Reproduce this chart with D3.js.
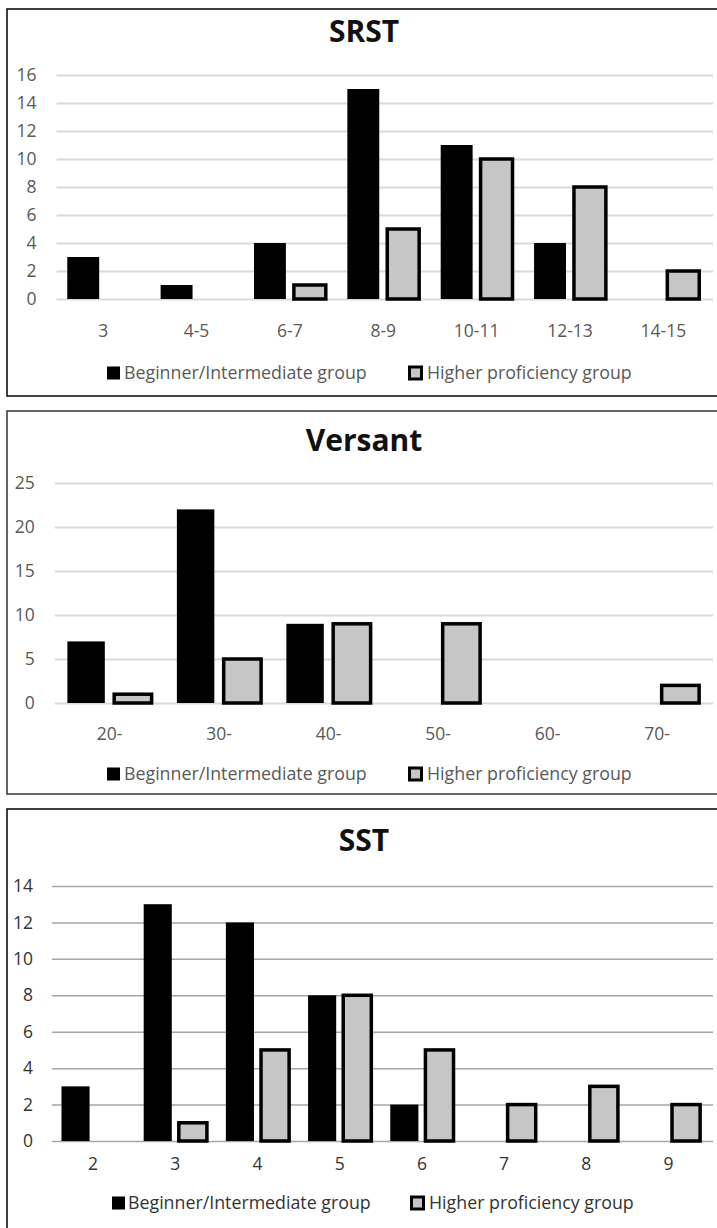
<!DOCTYPE html>
<html>
<head>
<meta charset="utf-8">
<script src="https://cdn.jsdelivr.net/npm/d3@7/dist/d3.min.js"></script>
<style>
body { margin: 0; background: #fff; }
svg { display: block; font-family: "Open Sans", sans-serif; }
</style>
</head>
<body>
<script>
var seriesNames = ["Beginner/Intermediate group", "Higher proficiency group"];

// SRST
var srstCategories = ["3", "4-5", "6-7", "8-9", "10-11", "12-13", "14-15"];
var srstBeginner = [3, 1, 4, 15, 11, 4, 0];
var srstHigher = [0, 0, 1, 5, 10, 8, 2];
var srstTicks = [0, 2, 4, 6, 8, 10, 12, 14, 16];

// Versant
var versantCategories = ["20-", "30-", "40-", "50-", "60-", "70-"];
var versantBeginner = [7, 22, 9, 0, 0, 0];
var versantHigher = [1, 5, 9, 9, 0, 2];
var versantTicks = [0, 5, 10, 15, 20, 25];

// SST
var sstCategories = ["2", "3", "4", "5", "6", "7", "8", "9"];
var sstBeginner = [3, 13, 12, 8, 2, 0, 0, 0];
var sstHigher = [0, 1, 5, 8, 5, 2, 3, 2];
var sstTicks = [0, 2, 4, 6, 8, 10, 12, 14];

var svg = d3.select("body").append("svg")
    .attr("width", 717)
    .attr("height", 1228);

function drawPanel(title, cats, beg, hig, ticks, cfg) {
  var g = svg.append("g");

  g.append("rect")
    .attr("x", 7).attr("y", cfg.boxTop)
    .attr("width", 720).attr("height", cfg.boxH)
    .attr("fill", "none")
    .attr("stroke", cfg.boxColor)
    .attr("stroke-width", 1.5);

  g.append("text")
    .attr("x", 364).attr("y", cfg.titleY)
    .attr("text-anchor", "middle")
    .attr("font-size", 30)
    .attr("font-weight", "bold")
    .attr("fill", "#111")
    .text(title);

  var x0 = d3.scaleBand().domain(cats).range([cfg.left, cfg.right]);
  var x1 = d3.scaleBand().domain([0, 1]).range([0, x0.bandwidth()])
      .paddingInner(0.2).paddingOuter(0.27);
  var y = d3.scaleLinear().domain([0, d3.max(ticks)]).range([cfg.bottom, cfg.top]);

  // gridlines + y labels
  g.append("g")
    .attr("transform", "translate(" + cfg.left + ",0)")
    .call(d3.axisLeft(y).tickValues(ticks)
        .tickSize(-(cfg.gridRight - cfg.left))
        .tickPadding(cfg.yPad))
    .call(function(a) { a.select(".domain").remove(); })
    .attr("font-family", null).attr("font-size", 17.5)
    .call(function(a) {
      a.selectAll("line").attr("stroke", cfg.gridColor).attr("stroke-width", cfg.gridW);
      a.selectAll("text").attr("fill", cfg.textColor);
    });

  // x labels
  g.append("g")
    .attr("transform", "translate(0," + cfg.bottom + ")")
    .call(d3.axisBottom(x0).tickSize(0).tickPadding(cfg.xPad))
    .call(function(a) { a.select(".domain").remove(); })
    .attr("font-family", null).attr("font-size", 17.5)
    .call(function(a) { a.selectAll("text").attr("fill", cfg.textColor); });

  var bars = [];
  cats.forEach(function(c, i) {
    bars.push({cat: c, s: 0, v: beg[i]});
    bars.push({cat: c, s: 1, v: hig[i]});
  });
  bars = bars.filter(function(d) { return d.v > 0; });

  g.selectAll("rect.bar")
    .data(bars)
    .enter().append("rect")
    .attr("class", "bar")
    .attr("x", function(d) { return x0(d.cat) + x1(d.s); })
    .attr("y", function(d) { return y(d.v); })
    .attr("width", x1.bandwidth())
    .attr("height", function(d) { return y(0) - y(d.v); })
    .attr("fill", function(d) { return d.s === 0 ? "#000" : "#c6c6c6"; })
    .attr("stroke", function(d) { return d.s === 0 ? "none" : "#000"; })
    .attr("stroke-width", 3.5);

  // legend
  var lg = g.append("g").attr("font-size", 17.8).attr("fill", cfg.textColor);
  lg.append("rect")
    .attr("x", cfg.leg[0]).attr("y", cfg.legY - 6.5)
    .attr("width", 13).attr("height", 13).attr("fill", "#000");
  lg.append("text")
    .attr("x", cfg.leg[1]).attr("y", cfg.legY).attr("dy", "0.35em")
    .text(seriesNames[0]);
  lg.append("rect")
    .attr("x", cfg.leg[2] + 1.5).attr("y", cfg.legY - 6)
    .attr("width", 12).attr("height", 12)
    .attr("fill", "#c6c6c6").attr("stroke", "#000").attr("stroke-width", 3);
  lg.append("text")
    .attr("x", cfg.leg[3]).attr("y", cfg.legY).attr("dy", "0.35em")
    .text(seriesNames[1]);
}

drawPanel("SRST", srstCategories, srstBeginner, srstHigher, srstTicks, {
  boxTop: 9, boxH: 387, boxColor: "#000", titleY: 42,
  left: 56.5, right: 710, gridRight: 713, top: 75, bottom: 299,
  yPad: 20, xPad: 26, gridColor: "#d9d9d9", gridW: 2.2, textColor: "#595959",
  legY: 373, leg: [107, 124, 408, 427]
});

drawPanel("Versant", versantCategories, versantBeginner, versantHigher, versantTicks, {
  boxTop: 411, boxH: 383, boxColor: "#333", titleY: 451,
  left: 54.75, right: 711.75, gridRight: 713, top: 483, bottom: 703,
  yPad: 20, xPad: 25, gridColor: "#d9d9d9", gridW: 2.2, textColor: "#595959",
  legY: 774, leg: [107, 124, 408, 427]
});

drawPanel("SST", sstCategories, sstBeginner, sstHigher, sstTicks, {
  boxTop: 809, boxH: 440, boxColor: "#000", titleY: 851,
  left: 52, right: 709.6, gridRight: 713, top: 886, bottom: 1141,
  yPad: 19, xPad: 17, gridColor: "#a6a6a6", gridW: 1.5, textColor: "#333",
  legY: 1203, leg: [112, 128, 410, 429]
});
</script>
</body>
</html>
